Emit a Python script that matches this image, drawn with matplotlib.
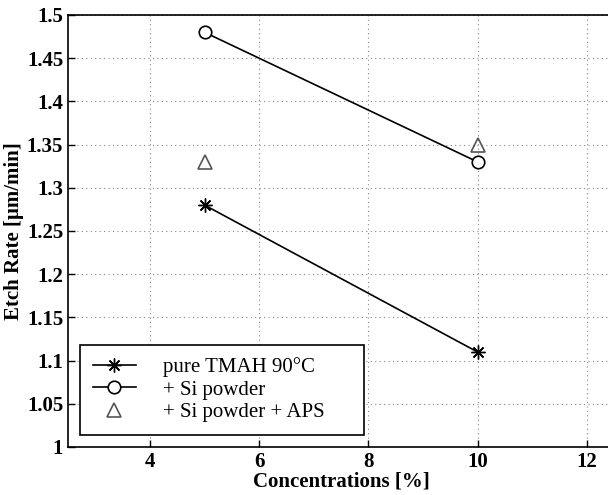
import numpy as np
import matplotlib
matplotlib.use("Agg")
import matplotlib.pyplot as plt

conc = [5, 10]
pure_tmah = [1.28, 1.11]
si_powder = [1.48, 1.33]
si_aps = [1.33, 1.35]
labels = ['pure TMAH 90°C', '+ Si powder', '+ Si powder + APS']

plt.rcParams['font.family'] = ['Liberation Serif', 'DejaVu Serif']

fig = plt.figure(figsize=(6.08, 4.95), dpi=100)
# right part of the axes runs past the figure edge, as in the original
ax = fig.add_axes([68 / 608, 48 / 495, 546 / 608, 432 / 495])

ax.plot(conc, pure_tmah, 'k-', marker=(8, 2, 0), markersize=10, markeredgewidth=1.0,
        linewidth=1.2, label=labels[0])
ax.plot(conc, si_powder, 'k-', marker='o', markersize=9, markerfacecolor='white',
        markeredgewidth=1.2, linewidth=1.2, label=labels[1])
# matlab-ish legend box: extra room on the right
ax.plot(conc, si_aps, linestyle='none', marker='^', markersize=10, markerfacecolor='none',
        markeredgecolor='#555555', markeredgewidth=1.2, label=labels[2] + '\u00a0' * 5)

ax.set_xlim(2.5, 12.5)
ax.set_ylim(1.0, 1.5)
ax.set_xticks([4, 6, 8, 10, 12])
ax.set_yticks(np.arange(1.0, 1.501, 0.05))
ax.set_yticklabels(['1', '1.05', '1.1', '1.15', '1.2', '1.25', '1.3', '1.35', '1.4', '1.45', '1.5'])
ax.grid(True, linestyle=(0, (1, 3)), color='#888888', linewidth=0.8)
ax.tick_params(direction='in', length=5, labelsize=15, width=1)
for lab in ax.get_xticklabels() + ax.get_yticklabels():
    lab.set_fontweight('bold')
for sp in ax.spines.values():
    sp.set_linewidth(1.2)
ax.spines['right'].set_visible(False)

ax.set_xlabel('Concentrations [%]', fontsize=15, fontweight='bold', labelpad=0)
ax.set_ylabel('Etch Rate [μm/min]', fontsize=15, fontweight='bold', labelpad=2)

leg = ax.legend(loc='lower left', fontsize=15, frameon=True, fancybox=False,
                edgecolor='black', framealpha=1, handlelength=2.1, handletextpad=1.3,
                borderaxespad=0.58, borderpad=0.6, labelspacing=0.15)
leg.get_frame().set_linewidth(1.2)

fig.savefig('out.png', dpi=100)
